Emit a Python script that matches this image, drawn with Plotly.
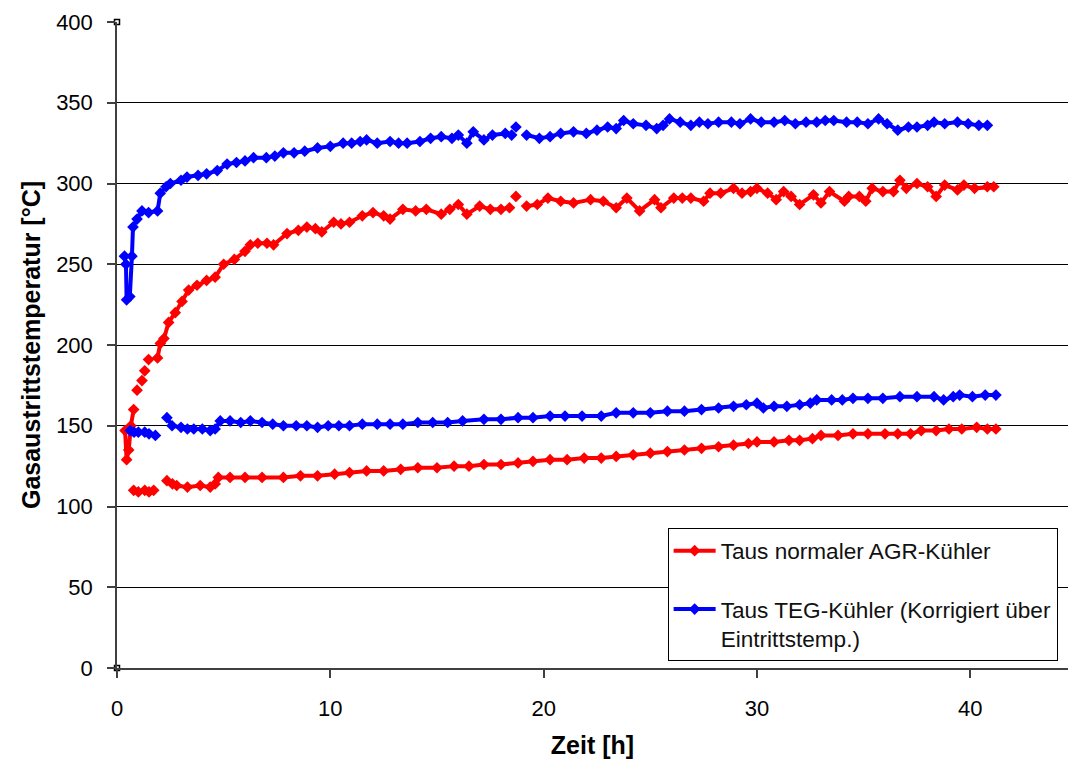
import plotly.graph_objects as go

# ---------------- data ----------------
# Taus normaler AGR-Kühler (red) – upper curve, then lower curve
agr_upper_x = [0.38, 0.45, 0.55, 0.65, 0.78, None, 0.94, None, 1.17, None, 1.30, None, 1.48, None,
               1.90, 2.03, 2.20, 2.42, 2.73, 3.05, 3.36, 3.75, 4.20, 4.60, 5.00, 5.50, 6.00, 6.25,
               6.60, 7.03, 7.34, 7.97, 8.50, 8.90, 9.30, 9.60, 10.16, 10.50, 10.90, 11.50, 12.00,
               12.50, 12.80, 13.40, 14.00, 14.50, 15.20, 15.60, 16.00, 16.40, 17.00, 17.50, 18.00,
               18.40, None, 18.70, None, 19.20, 19.70, 20.20, 20.80, 21.40, 22.20, 22.80, 23.40, 23.90,
               24.50, 25.20, 25.50, 26.10, 26.50, 26.90, 27.50, 27.80, 28.30, 28.90, 29.30, 29.70,
               30.00, 30.50, 30.90, 31.25, 31.60, 32.00, 32.65, 33.00, 33.40, 34.10, 34.30, 34.80,
               35.10, 35.40, 35.90, 36.40, 36.70, 37.00, 37.50, 38.00, 38.40, 38.80, 39.40, 39.70,
               40.20, 40.80, 41.10]
agr_upper_y = [147, 129, 135, 150, 160, None, 172, None, 178, None, 184, None, 191, None,
               192, 201, 204, 214, 220, 227, 234, 237, 240, 242, 250, 253, 258, 262,
               263, 263, 262, 269, 271, 273, 272, 270, 276, 275, 276, 280, 282,
               280, 278, 284, 283, 284, 281, 284, 287, 281, 286, 284, 284,
               285, None, 292, None, 286, 287, 291, 289, 288, 290, 289, 285, 291,
               283, 290, 285, 291, 291, 291, 289, 294, 294, 297, 294, 295,
               297, 294, 290, 295, 292, 287, 293, 288, 295, 289, 292, 292,
               289, 297, 295, 295, 302, 297, 300, 298, 292, 299, 296, 299,
               297, 298, 298]

agr_lower_x = [0.78, 1.00, 1.30, 1.50, 1.72, None, 2.34, 2.60, 2.80, 3.30, 3.90, 4.37, 4.60, 4.75,
               5.30, 6.00, 6.80, 7.80, 8.60, 9.40, 10.20, 10.90, 11.70, 12.50, 13.30, 14.10,
               15.00, 15.80, 16.50, 17.20, 18.00, 18.80, 19.50, 20.30, 21.10, 21.90, 22.70,
               23.40, 24.20, 25.00, 25.80, 26.60, 27.40, 28.20, 28.90, 29.60, 30.00, 30.80,
               31.50, 32.00, 32.60, 33.00, 33.80, 34.50, 35.20, 36.00, 36.60, 37.20, 37.70,
               38.40, 39.00, 39.60, 40.30, 40.80, 41.20]
agr_lower_y = [110, 109, 110, 109, 110, None, 116, 114, 113, 112, 113, 112, 114, 118,
               118, 118, 118, 118, 119, 119, 120, 121, 122, 122, 123, 124,
               124, 125, 125, 126, 126, 127, 128, 129, 129, 130, 130,
               131, 132, 133, 134, 135, 136, 137, 138, 139, 140, 140,
               141, 141, 142, 144, 144, 145, 145, 145, 145, 145, 147,
               147, 148, 148, 149, 148, 148]

# Taus TEG-Kühler (blue) – upper curve, then lower curve
teg_upper_x = [0.35, 0.42, 0.45, 0.60, 0.70, 0.75, 0.94, 1.17, 1.48, 1.90, 2.03, 2.30, 2.50, 3.00,
               3.28, 3.80, 4.20, 4.70, 5.16, 5.60, 6.00, 6.40, 7.00, 7.40, 7.80, 8.30, 8.80, 9.40,
               10.00, 10.60, 11.00, 11.40, 11.70, 12.20, 12.80, 13.20, 13.60, 14.20, 14.70, 15.20,
               15.70, 16.00, 16.40, 16.70, 17.20, 17.60, 18.20, 18.50, None, 18.70, None, 19.20,
               19.80, 20.30, 20.80, 21.40, 22.00, 22.50, 23.00, 23.40, 23.75, 24.20, 24.80,
               25.30, 25.60, 25.90, 26.40, 26.90, 27.30, 27.70, 28.20, 28.80, 29.20, 29.70,
               30.20, 30.80, 31.30, 31.80, 32.30, 32.80, 33.20, 33.60, 34.20, 34.70, 35.20,
               35.70, 36.10, 36.60, 37.10, 37.50, 38.00, 38.30, 38.80, 39.40, 39.90, 40.40, 40.80]
teg_upper_y = [255, 250, 228, 230, 255, 273, 278, 283, 282, 283, 294, 298, 300, 302,
               304, 305, 306, 308, 312, 313, 314, 316, 316, 317, 319, 319, 320, 322,
               323, 325, 325, 326, 327, 325, 326, 325, 325, 326, 328, 329,
               328, 330, 325, 332, 327, 330, 331, 330, None, 335, None, 330,
               328, 329, 331, 332, 331, 333, 335, 334, 339, 337, 336,
               334, 336, 340, 338, 336, 338, 337, 338, 338, 337, 340,
               338, 338, 339, 337, 338, 338, 339, 339, 338, 338, 337,
               340, 337, 333, 335, 335, 336, 338, 337, 338, 337, 336, 336]

teg_lower_x = [0.62, 0.80, 1.00, 1.30, 1.50, 1.80, None, 2.34, 2.58, 3.00, 3.30, 3.60, 4.00, 4.37,
               4.60, 4.84, 5.30, 5.80, 6.25, 6.80, 7.30, 7.80, 8.40, 8.90, 9.40, 9.90, 10.40,
               10.90, 11.50, 12.20, 12.80, 13.40, 14.10, 14.80, 15.50, 16.20, 17.20, 18.00,
               18.80, 19.50, 20.30, 21.00, 21.80, 22.70, 23.40, 24.20, 25.00, 25.80, 26.60,
               27.40, 28.20, 28.90, 29.50, 30.00, 30.30, 30.80, 31.40, 32.00, 32.50, 32.80,
               33.50, 34.00, 34.50, 35.20, 35.90, 36.70, 37.50, 38.30, 38.75, 39.20, 39.50,
               40.10, 40.70, 41.20]
teg_lower_y = [147, 146, 146, 146, 145, 144, None, 155, 150, 149, 148, 148, 148, 147,
               148, 153, 153, 152, 153, 152, 151, 150, 150, 150, 149, 150, 150,
               150, 151, 151, 151, 151, 152, 152, 152, 153, 154, 154,
               155, 155, 156, 156, 156, 156, 158, 158, 158, 159, 159,
               160, 161, 162, 163, 164, 161, 162, 162, 163, 164, 166,
               166, 166, 167, 167, 167, 168, 168, 168, 166, 168, 169,
               168, 169, 169]

corner_x = [0, 0]
corner_y = [0, 400]

x_ticks = [0, 10, 20, 30, 40]
y_ticks = [0, 50, 100, 150, 200, 250, 300, 350, 400]

series_names = ["Taus normaler AGR-Kühler",
                "Taus TEG-Kühler (Korrigiert über<br>Eintrittstemp.)"]

# ---------------- figure ----------------
FONT = "Arial, 'Liberation Sans', sans-serif"
fig = go.Figure()

fig.add_trace(go.Scatter(
    x=agr_upper_x + [None] + agr_lower_x,
    y=agr_upper_y + [None] + agr_lower_y,
    mode="lines+markers", name=series_names[0], legendgroup="a",
    line=dict(color="#ff0000", width=4),
    marker=dict(symbol="diamond", size=9, color="#ff0000"),
    connectgaps=False,
))
fig.add_trace(go.Scatter(
    x=teg_upper_x + [None] + teg_lower_x,
    y=teg_upper_y + [None] + teg_lower_y,
    mode="lines+markers", name=series_names[1], legendgroup="b",
    line=dict(color="#0000ff", width=4),
    marker=dict(symbol="diamond", size=9, color="#0000ff"),
    connectgaps=False,
))
fig.add_trace(go.Scatter(
    x=corner_x, y=corner_y, mode="markers", showlegend=False,
    marker=dict(symbol="square-open", size=5, color="black", line=dict(width=1.5)),
    cliponaxis=False,
))

fig.update_layout(
    width=1068, height=764,
    margin=dict(l=117, r=0, t=22, b=96),
    paper_bgcolor="white", plot_bgcolor="white",
    font=dict(family=FONT, size=22, color="black"),
    showlegend=True,
    legend=dict(
        x=0.579, y=0.216, xanchor="left", yanchor="top",
        bgcolor="white", bordercolor="black", borderwidth=1,
        font=dict(family=FONT, size=22.6, color="#111111"),
        tracegroupgap=26, traceorder="grouped", valign="top",
        itemwidth=42,
    ),
)

fig.update_xaxes(
    range=[0, 44.58], tickvals=x_ticks, ticks="outside", ticklen=8,
    tickcolor="#404040", tickwidth=1.5, showgrid=False, zeroline=False,
    showline=True, linecolor="#404040", linewidth=1.5,
    ticklabelstandoff=12,
    tickfont=dict(family=FONT, size=22, color="black"),
    title=dict(text="<b>Zeit [h]</b>", standoff=16,
               font=dict(family=FONT, size=25, color="black")),
)
fig.update_yaxes(
    range=[0, 400], tickvals=y_ticks, ticks="outside", ticklen=8,
    tickcolor="#404040", tickwidth=1.5,
    showgrid=True, gridcolor="black", gridwidth=1.3, zeroline=False,
    showline=True, linecolor="#404040", linewidth=1.5,
    ticklabelstandoff=10,
    tickfont=dict(family=FONT, size=22, color="black"),
    title=dict(text="<b>Gasaustrittstemperatur [°C]</b>", standoff=8,
               font=dict(family=FONT, size=25, color="black")),
)

fig.write_html("out.html")
